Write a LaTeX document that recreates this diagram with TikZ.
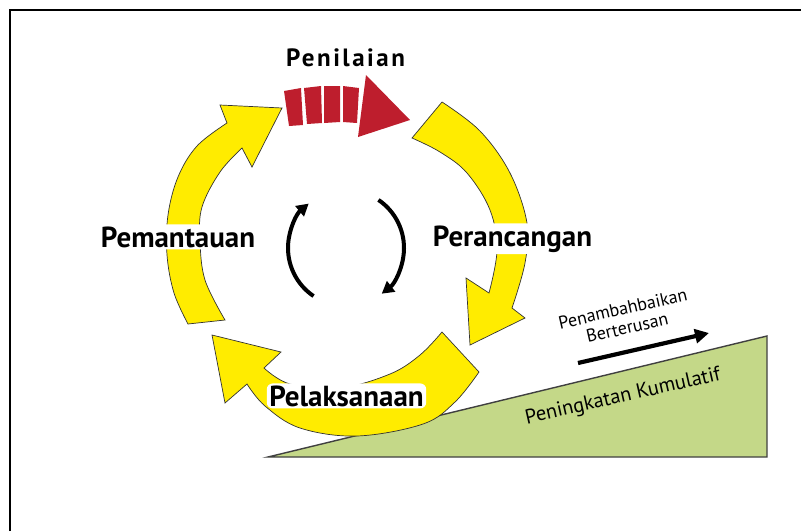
\documentclass[tikz,border=0pt]{standalone}
\usepackage{fontspec}
\setmainfont{PT Sans}
\newfontfamily\spacedfont[LetterSpace=10]{PT Sans}
\usetikzlibrary{arrows.meta}
\definecolor{ylw}{RGB}{255,236,0}
\definecolor{redd}{RGB}{190,30,45}
\definecolor{grn}{RGB}{196,216,136}
\tikzset{
  cyc/.style={fill=ylw, draw=black!80, line width=0.7pt, line join=miter},
  seg/.style={fill=redd},
  lbl/.style={font=\fontsize{29pt}{31pt}\selectfont\bfseries, inner xsep=2.5pt, inner ysep=2pt, anchor=base},
  halo/.style={lbl, fill=white, rounded corners=6pt},
  slopebox/.style={fill=grn, draw=black!75, line width=1.4pt, line join=miter},
  rot/.style={font=\fontsize{18pt}{19.5pt}\selectfont, text=black, rotate=12.8, align=center},
  loopar/.style={line width=4pt, -{Triangle[length=12pt,width=13pt]}},
  thickar/.style={line width=4.2pt, -{Triangle[length=14pt,width=14pt]}},
  framel/.style={line width=2.6pt, draw=black}
}
\begin{document}
\begin{tikzpicture}[x=1pt,y=-1pt]
\useasboundingbox (0,0) rectangle (801,531);
% frame
\draw[framel] (10,531) -- (10,10) -- (801,10);
% green slope
\draw[slopebox] (268,457) -- (767,336) -- (767,457) -- cycle;
% left arrow (Pemantauan)
\path[cyc] (282,108) -- (220,105)
  -- plot[smooth, tension=0.6] coordinates {(227,123) (197,146) (178,177) (168,215) (167,255) (174,293) (188,324)}
  -- plot[smooth, tension=0.6] coordinates {(225,320) (205,280) (200,240) (202,207) (220,172) (242,148)}
  -- (252,167) -- cycle;
% right arrow (Perancangan)
\path[cyc] (442,102)
  -- plot[smooth, tension=0.6] coordinates {(442,102) (480,131) (510,173) (527,223) (525,263) (512,308)}
  -- (525,318) -- (470,345) -- (466,278)
  -- plot[smooth, tension=0.6] coordinates {(489,293) (497,250) (490,210) (467,173) (440,152) (412,138)}
  -- cycle;
% bottom arrow (Pelaksanaan)
\path[cyc] (212,335) -- (281,352)
  -- plot[smooth, tension=0.6] coordinates {(264,368) (290,384) (340,388) (390,374) (420,355) (442,332)}
  -- plot[smooth, tension=0.6] coordinates {(479,372) (455,402) (423,424) (357,436) (300,428) (265,406) (247,384)}
  -- (225,403) -- cycle;
% red arrow (Penilaian)
\fill[seg] (284,91) -- (301,88) -- (303,125) -- (289,126) -- cycle;
\fill[seg] (304,88) -- (321,86) -- (322,123) -- (307,124) -- cycle;
\fill[seg] (324,86) -- (340,86) -- (340,122) -- (324,123) -- cycle;
\fill[seg] (343,86) -- (359,88) -- (357,123) -- (343,122) -- cycle;
\fill[seg] (366,75) -- (410,120) -- (358,137) -- cycle;
% inner loop arrows
\coordinate (C) at (346,248);
\path (C) ++(124:58) coordinate (la);
\path (C) ++(-56:58) coordinate (ra);
\draw[loopar] (la) arc[start angle=124, end angle=230, radius=58];
\draw[loopar] (ra) arc[start angle=-56, end angle=52, radius=58];
% labels
\node[lbl, inner sep=0pt] (pen) at (345.5,66) {\spacedfont\fontsize{25pt}{27pt}\selectfont\bfseries Penilaian};
\node[halo] (pem) at (178,247) {Pemantauan};
\node[halo] (per) at (512.5,246) {Perancangan};
\node[halo] (pel) at (346.5,406) {Pelaksanaan};
% slope texts
\node[rot, font=\fontsize{20.5pt}{22pt}\selectfont] (cum) at (623,397) {Peningkatan Kumulatif};
\node[rot] (ctn) at (625,318) {Penambahbaikan\\Berterusan};
\coordinate (ps) at (578,363);
\coordinate (pe) at (709,333);
\draw[thickar] (ps) -- (pe);
\end{tikzpicture}
\end{document}
